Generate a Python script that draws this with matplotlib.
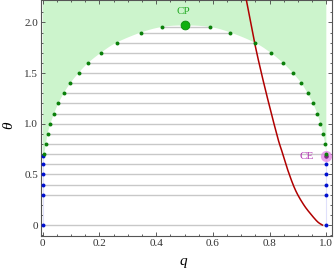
import matplotlib
matplotlib.use("Agg")
import matplotlib.pyplot as plt
import numpy as np

plt.rcParams['font.family'] = ['Liberation Serif', 'DejaVu Serif']

# binodal (coexistence) points
theta_bin = [0.7, 0.8, 0.9, 1.0, 1.1, 1.2, 1.3, 1.4, 1.5, 1.6, 1.7, 1.8, 1.9, 1.955]
q_left = [0.005, 0.011, 0.017, 0.027, 0.040, 0.055, 0.074, 0.097, 0.126, 0.160, 0.205, 0.260, 0.346, 0.421]
q_right = [1.0, 0.996, 0.988, 0.979, 0.968, 0.953, 0.934, 0.912, 0.882, 0.847, 0.804, 0.748, 0.662, 0.589]

# low-temperature pure-phase points
theta_low = [0.0, 0.3, 0.4, 0.5, 0.6, 0.68]
q_low_left = [0.0] * len(theta_low)
q_low_right = [1.0] * len(theta_low)

# critical point and critical endpoint
cp_q, cp_theta = 0.5, 1.97
ce_q, ce_theta = 1.0, 0.68

# red curve
red_theta = [2.22, 1.80, 1.464, 1.135, 0.846, 0.74, 0.543, 0.345, 0.197, 0.092, 0.03, 0.0]
red_q = [0.718, 0.747, 0.774, 0.803, 0.830, 0.842, 0.864, 0.891, 0.921, 0.950, 0.970, 0.986]


def smooth_path(xs, ys, sx, sy, n=20):
    """Catmull-Rom rendering of a polyline through the given points."""
    P = np.column_stack([np.asarray(xs) / sx, np.asarray(ys) / sy])
    P = np.vstack([2 * P[0] - P[1], P, 2 * P[-1] - P[-2]])
    out = []
    for i in range(1, len(P) - 2):
        p0, p1, p2, p3 = P[i - 1], P[i], P[i + 1], P[i + 2]
        t = np.linspace(0, 1, n, endpoint=False)[:, None]
        seg = 0.5 * ((2 * p1) + (-p0 + p2) * t + (2 * p0 - 5 * p1 + 4 * p2 - p3) * t ** 2
                     + (-p0 + 3 * p1 - 3 * p2 + p3) * t ** 3)
        out.append(seg)
    out.append(P[-2][None, :])
    out = np.vstack(out)
    return out[:, 0] * sx, out[:, 1] * sy


fig = plt.figure(figsize=(3.34, 2.72), dpi=100)
ax = fig.add_axes([0.123, 0.132, 0.871, 0.868])
ax.set_xlim(-0.006, 1.02)
ax.set_ylim(-0.109, 2.221)
SX, SY = 1 / 283.0, 1 / 101.3

# green fill above binodal
bq = q_left + [cp_q] + q_right[::-1]
bt = theta_bin + [cp_theta] + theta_bin[::-1]
fq, ft = smooth_path(bq, bt, SX, SY)
poly_q = np.concatenate([[0.0], fq, [1.0, 1.0, 0.0]])
poly_t = np.concatenate([[ce_theta], ft, [ce_theta, 2.4, 2.4]])
ax.fill(poly_q, poly_t, color='#ccf4cc', lw=0, zorder=1)

# tie lines
grey = '#c8c8c8'
for t, a, b in zip(theta_low[:-1], q_low_left[:-1], q_low_right[:-1]):
    ax.plot([a, b], [t, t], color=grey, lw=1.0, zorder=2)
for t, a, b in zip(theta_bin, q_left, q_right):
    ax.plot([a, b], [t, t], color=grey, lw=1.0, zorder=2)

# faint vertical lines
ax.plot([0, 0], [0, ce_theta], color='#dfe0fb', lw=0.8, zorder=2)
ax.plot([1, 1], [0, ce_theta], color='#dfe0fb', lw=0.8, zorder=2)

# red curve
rq, rt = smooth_path(red_q, red_theta, SX, SY)
ax.plot(rq, rt, color='#b00000', lw=1.1, zorder=3)

# dots
ax.scatter(q_low_left + q_low_right, theta_low + theta_low, s=8, color='#0010d0', lw=0, zorder=5)
# CE marker
ax.scatter([ce_q], [ce_theta], s=65, color='#e27ae2', alpha=0.7, lw=0, zorder=6)
ax.scatter([ce_q], [ce_theta], s=10, color='#7a2a7a', lw=0, zorder=6)
ax.scatter(q_left + q_right, theta_bin + theta_bin, s=8, color='#0a800a', lw=0, zorder=7)
ax.scatter([cp_q], [cp_theta], s=40, color='#10b010', edgecolor='#0a8a0a', lw=0.6, zorder=8)

ax.text(cp_q - 0.004, 2.11, 'CP', color='#22aa22', fontsize=8, ha='center', va='center')
ax.text(0.955, 0.68, 'CE', color='#b030b0', fontsize=8, ha='right', va='center')

ax.set_xticks([0, 0.2, 0.4, 0.6, 0.8, 1.0])
ax.set_xticklabels(['0', '0.2', '0.4', '0.6', '0.8', '1.0'])
ax.set_yticks([0, 0.5, 1.0, 1.5, 2.0])
ax.set_yticklabels(['0', '0.5', '1.0', '1.5', '2.0'])
ax.set_xticks(np.arange(0, 1.0001, 0.05), minor=True)
ax.set_yticks(np.arange(-0.1, 2.2, 0.1), minor=True)
ax.tick_params(which='both', direction='in', top=True, right=True, labelsize=8,
               labelcolor='#333333', color='#444444', width=0.6, pad=2)
ax.tick_params(which='major', length=3)
ax.tick_params(which='minor', length=1.6)
for s in ax.spines.values():
    s.set_color('#555555')
    s.set_linewidth(0.8)

fig.text(0.548, 0.037, 'q', fontsize=11, style='italic', ha='center', va='center')
fig.text(0.027, 0.54, 'θ', fontsize=11, style='italic', ha='center', va='center', rotation=90)

fig.savefig('out.png', dpi=100)
